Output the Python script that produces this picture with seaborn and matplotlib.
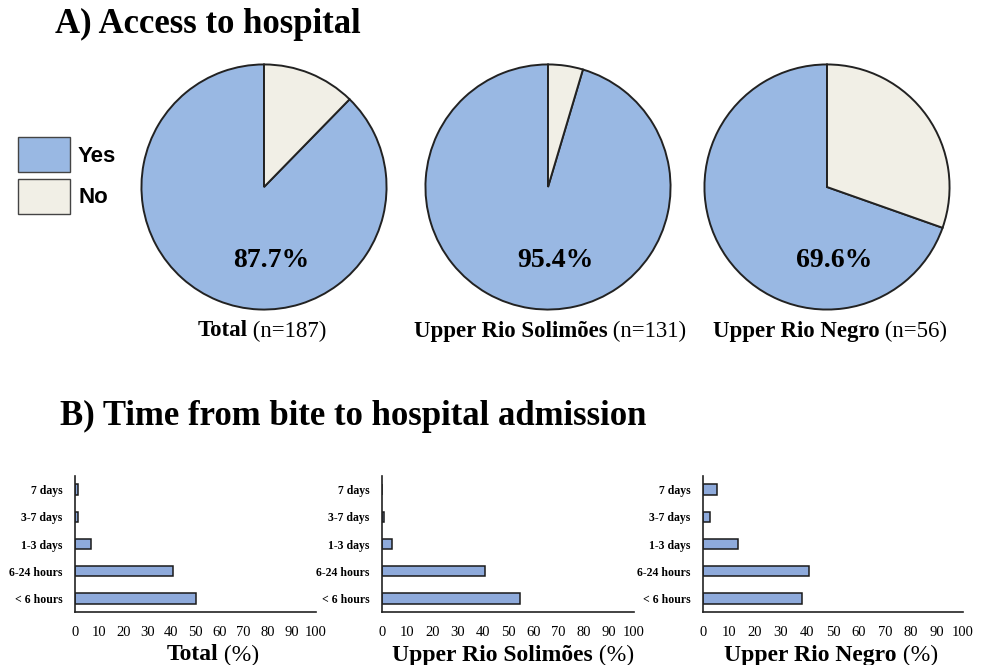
import numpy as np
import pandas as pd
import matplotlib
matplotlib.use('Agg')
import matplotlib.pyplot as plt
import seaborn as sns
from matplotlib.patches import Patch

# ── data ─────────────────────────────────────────────
regions = ['Total', 'Upper Rio Solimões', 'Upper Rio Negro']
sample_sizes = [187, 131, 56]
access_yes = [87.7, 95.4, 69.6]

time_cats = ['7 days', '3-7 days', '1-3 days', '6-24 hours', '< 6 hours']
time_total = [1.2, 1.2, 6.5, 40.5, 50.2]
time_solimoes = [0.0, 0.8, 4.0, 40.8, 54.6]
time_negro = [5.4, 2.7, 13.6, 40.8, 37.9]

yes_color = '#99b8e3'
no_color = '#f1efe6'
bar_color = '#8eaadb'

sns.set_style('white')
plt.rcParams['font.family'] = ['Liberation Serif', 'DejaVu Serif']
plt.rcParams['text.color'] = 'black'
plt.rcParams['xtick.color'] = 'black'
plt.rcParams['ytick.color'] = 'black'

fig = plt.figure(figsize=(9.85, 6.65), dpi=100)
W, H = 985, 665


def fax(left, top, w, h):
    return fig.add_axes([left / W, 1 - (top + h) / H, w / W, h / H])


def mixed_label(x_center, y, bold, normal, size):
    # bold part + normal part, centered as one string (pixel coords)
    r = fig.canvas.get_renderer()
    t1 = fig.text(0, 1 - y / H, bold, fontsize=size, fontweight='bold', va='center')
    t2 = fig.text(0, 1 - y / H, ' ' + normal, fontsize=size, va='center')
    w1 = t1.get_window_extent(r).width
    w2 = t2.get_window_extent(r).width
    x0 = x_center - (w1 + w2) / 2
    t1.set_x(x0 / W)
    t2.set_x((x0 + w1) / W)


# ── A) pies ──────────────────────────────────────────
fig.text(55 / W, 1 - 24 / H, 'A) Access to hospital', fontsize=25,
         fontweight='bold', va='center')

pie_centers = [264, 548, 827]
label_centers = [262, 550, 830]
R = 125
for cx, lx, name, n, yes in zip(pie_centers, label_centers, regions,
                                sample_sizes, access_yes):
    ax = fax(cx - R, 187 - R, 2 * R, 2 * R)
    ax.pie([yes, 100 - yes], colors=[yes_color, no_color], startangle=90,
           counterclock=True,
           wedgeprops=dict(edgecolor='#222222', linewidth=1.4))
    ax.set_xlim(-1.02, 1.02)
    ax.set_ylim(-1.02, 1.02)
    ax.set_aspect('equal')
    ax.text(0.06, -0.6, f'{yes}%', ha='center', va='center',
            fontsize=20, fontweight='bold')
    mixed_label(lx, 331, name, f'(n={n})', 16.5)

fig.legend(handles=[Patch(facecolor=yes_color, edgecolor='#444444', label='Yes'),
                    Patch(facecolor=no_color, edgecolor='#444444', label='No')],
           loc='upper left', bbox_to_anchor=(18 / W, 1 - 137 / H),
           frameon=False, borderpad=0, borderaxespad=0,
           handlelength=2.35, handleheight=2.05,
           labelspacing=0.3, handletextpad=0.35,
           prop=dict(family='Liberation Sans', weight='bold', size=16))

# ── B) horizontal bars ───────────────────────────────
fig.text(60 / W, 1 - 416 / H, 'B) Time from bite to hospital admission',
         fontsize=25, fontweight='bold', va='center')

bar_axes = [(75, 241), (382, 252), (703, 260)]
xlabel_centers = [213, 513, 831]
for (left, w), xc, name, vals in zip(bar_axes, xlabel_centers, regions,
                                     [time_total, time_solimoes, time_negro]):
    ax = fax(left, 476, w, 136)
    df = pd.DataFrame({'time': time_cats, 'pct': vals})
    sns.barplot(data=df, x='pct', y='time', order=time_cats, orient='h',
                color=bar_color, edgecolor='#1a1a1a', linewidth=1.1,
                width=0.38, saturation=1, ax=ax)
    ax.set_xlim(0, 100)
    ax.set_ylim(4.5, -0.5)
    ax.set_xticks(range(0, 101, 10))
    ax.set_xlabel('')
    ax.set_ylabel('')
    ax.tick_params(axis='x', length=0, pad=10, labelsize=10.5)
    ax.tick_params(axis='y', length=0, pad=9)
    for lab in ax.get_yticklabels():
        lab.set_fontsize(8.5)
        lab.set_fontweight('bold')
    sns.despine(ax=ax)
    for s in ['left', 'bottom']:
        ax.spines[s].set_color('#222222')
        ax.spines[s].set_linewidth(1.2)
    mixed_label(xc, 655, name, '(%)', 17)

fig.savefig('out.png', dpi=100)
